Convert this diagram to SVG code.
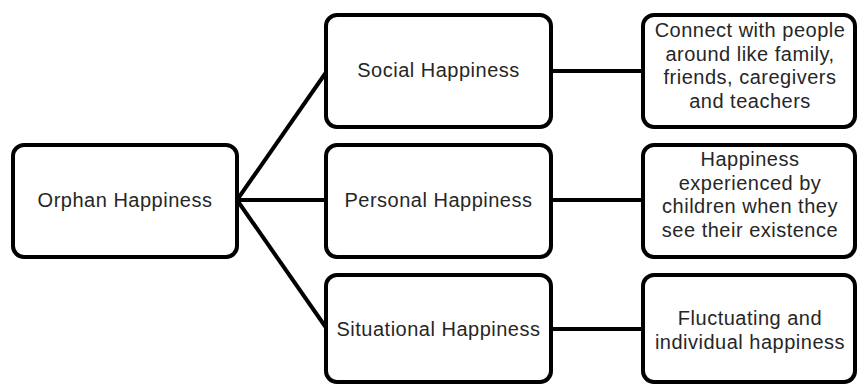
<svg xmlns="http://www.w3.org/2000/svg" width="859" height="385" viewBox="0 0 859 385">
<style>
.box{fill:#fff;stroke:#000;stroke-width:4}
.conn{stroke:#000;stroke-width:4;fill:none}
text{font-family:"Liberation Sans",Arial,sans-serif;font-size:20px;letter-spacing:0.5px;fill:#262626;text-anchor:middle}
</style>
<rect width="859" height="385" fill="#fff"/>
<g id="connectors">
<line class="conn" x1="237" y1="200" x2="327" y2="71"/>
<line class="conn" x1="237" y1="200" x2="327" y2="200"/>
<line class="conn" x1="237" y1="200" x2="327" y2="329"/>
<line class="conn" x1="551" y1="71" x2="643" y2="71"/>
<line class="conn" x1="551" y1="200" x2="643" y2="200"/>
<line class="conn" x1="551" y1="329" x2="643" y2="329"/>
</g>
<g id="orphan">
<rect class="box" x="13" y="145" width="224" height="112" rx="11"/>
<text x="125" y="207">Orphan Happiness</text>
</g>
<g id="social">
<rect class="box" x="326" y="15" width="225" height="112" rx="11"/>
<text x="438.5" y="77">Social Happiness</text>
</g>
<g id="personal">
<rect class="box" x="326" y="145" width="225" height="112" rx="11"/>
<text x="438.5" y="207">Personal Happiness</text>
</g>
<g id="situational">
<rect class="box" x="326" y="275" width="225" height="107" rx="11"/>
<text x="438.5" y="336">Situational Happiness</text>
</g>
<g id="social-desc">
<rect class="box" x="643" y="15" width="212" height="112" rx="11"/>
<text x="750" y="37">Connect with people</text>
<text x="750" y="60.5">around like family,</text>
<text x="750" y="84">friends, caregivers</text>
<text x="750" y="107.5">and teachers</text>
</g>
<g id="personal-desc">
<rect class="box" x="643" y="145" width="212" height="112" rx="11"/>
<text x="750" y="166">Happiness</text>
<text x="750" y="189.5">experienced by</text>
<text x="750" y="213">children when they</text>
<text x="750" y="236.5">see their existence</text>
</g>
<g id="situational-desc">
<rect class="box" x="643" y="275" width="212" height="107" rx="11"/>
<text x="750" y="325">Fluctuating and</text>
<text x="750" y="349">individual happiness</text>
</g>
</svg>
